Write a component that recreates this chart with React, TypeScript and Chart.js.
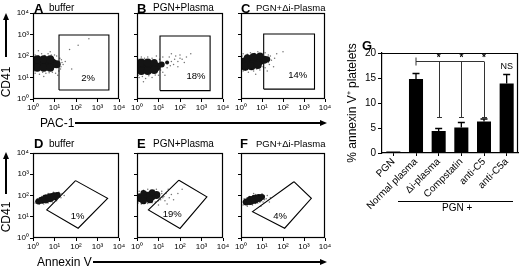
import React, { useEffect, useRef } from "react";
import { Chart, registerables } from "chart.js";

Chart.register(...registerables);

const FONT = '"Liberation Sans", Arial, Helvetica, sans-serif';
Chart.defaults.font.family = FONT;
Chart.defaults.color = "#000";

// ---------- flow cytometry panels (coordinates in log10 decades) ----------
const decadeTicks = [0, 1, 2, 3, 4];
const decadeLabels = ["10⁰", "10¹", "10²", "10³", "10⁴"];

// dense core blobs: [x, y, radius]
const coreA = [[0.15,1.65,5],[0.4,1.65,5],[0.65,1.65,5],[0.9,1.65,5],[1.1,1.62,4],[0.2,1.45,4],[0.5,1.45,4],[0.8,1.45,4],[0.2,1.85,4],[0.5,1.85,4],[0.8,1.85,4]];
const haloA = [[0.1,1.2],[0.3,1.15],[0.6,1.2],[0.9,1.25],[1.2,1.3],[1.3,1.5],[1.35,1.7],[1.25,1.9],[1.0,2.05],[0.7,2.1],[0.4,2.1],[0.1,2.05],[0.5,1.05],[1.4,1.6],[0.8,2.2],[0.25,2.25],[1.15,1.1],[1.5,1.75],[1.7,2.3],[2.1,2.5],[2.6,2.8],[1.8,1.4],[0.05,1.3],[0.45,1.25],[0.75,1.22],[1.05,1.2],[1.28,1.4],[1.32,1.82],[1.1,2.0],[0.85,2.05],[0.55,2.02],[0.25,2.0],[0.05,1.95]];
const gateA = [[1.21,0.42],[3.53,0.42],[3.53,2.98],[1.21,2.98],[1.21,0.42]];
const pctA = "2%";
const pctPosA = [2.56, 0.98];

const coreB = [[0.15,1.5,5],[0.4,1.5,5],[0.65,1.5,5],[0.9,1.5,4.5],[0.2,1.3,4],[0.5,1.3,4],[0.8,1.35,4],[0.2,1.7,4],[0.5,1.7,4],[0.8,1.7,3.5],[1.15,1.6,3],[1.4,1.7,2]];
const haloB = [[0.1,1.0],[0.4,0.95],[0.7,1.0],[1.0,1.1],[1.2,1.25],[1.4,1.45],[1.7,1.6],[1.9,1.75],[2.1,1.85],[2.3,1.95],[2.0,2.05],[1.8,2.0],[1.5,1.95],[1.2,1.95],[0.9,2.0],[0.5,1.95],[0.2,1.95],[1.9,1.5],[2.2,1.7],[1.6,2.1],[0.3,0.8],[2.5,2.1],[1.3,1.1],[1.6,1.75],[1.75,1.85],[0.05,1.1],[0.25,1.05],[0.55,1.08],[0.85,1.12],[1.1,1.35],[1.05,1.85],[0.7,1.9],[0.35,1.9],[0.05,1.85],[1.55,1.55],[2.0,1.9]];
const gateB = [[1.07,0.39],[3.4,0.39],[3.4,2.93],[1.07,2.93],[1.07,0.39]];
const pctB = "18%";
const pctPosB = [2.74, 1.07];

const coreC = [[0.15,1.7,5],[0.4,1.72,5],[0.65,1.75,5],[0.9,1.8,5],[1.1,1.82,4],[0.2,1.5,4],[0.5,1.52,4],[0.8,1.58,4],[0.3,1.92,3.5],[0.6,1.95,4],[0.9,2.0,3.5],[1.25,1.85,3]];
const haloC = [[0.1,1.3],[0.35,1.25],[0.6,1.3],[0.9,1.35],[1.15,1.45],[1.35,1.6],[1.45,1.8],[1.4,2.0],[1.15,2.15],[0.8,2.2],[0.45,2.15],[0.1,2.1],[1.6,1.9],[1.7,2.1],[0.7,1.15],[1.25,1.3],[1.55,1.5],[2.0,2.2],[0.05,1.4],[0.2,1.35],[0.5,1.38],[0.75,1.4],[1.05,1.5],[1.3,1.7],[1.3,2.05],[1.0,2.12],[0.65,2.12],[0.3,2.08],[0.05,2.0]];
const gateC = [[1.08,0.46],[3.5,0.46],[3.5,3.02],[1.08,3.02],[1.08,0.46]];
const pctC = "14%";
const pctPosC = [2.7, 1.1];

const coreD = [[0.25,1.72,3],[0.4,1.78,3.5],[0.6,1.84,4.5],[0.8,1.9,4.5],[1.0,1.96,4],[1.15,2.02,3]];
const haloD = [[0.1,1.65],[0.2,1.85],[0.3,1.6],[0.5,1.6],[0.5,2.0],[0.7,2.1],[0.9,1.7],[1.1,1.75],[1.2,2.15],[1.35,2.1],[1.3,1.9],[0.95,2.15],[0.15,1.78],[0.4,1.95],[1.45,2.0],[0.7,1.65],[0.12,1.72],[0.3,1.9],[0.45,1.65],[0.6,2.02],[0.85,2.08],[1.05,1.8],[1.25,1.95],[1.1,2.12]];
const gateD = [[1.98,2.7],[3.47,1.87],[2.1,0.46],[0.64,1.32],[1.98,2.7]];
const pctD = "1%";
const pctPosD = [2.07, 1.04];

const coreE = [[0.15,1.9,4.5],[0.4,1.95,5],[0.65,1.98,5],[0.9,2.02,4],[0.3,1.75,3.5],[0.6,1.8,3.5],[0.3,2.12,3],[0.7,2.15,3]];
const haloE = [[0.05,1.65],[0.2,1.6],[0.5,1.62],[0.85,1.7],[1.1,1.8],[1.25,1.95],[1.35,2.1],[1.15,2.2],[0.9,2.3],[0.5,2.3],[0.1,2.2],[1.3,1.75],[1.5,1.9],[1.6,2.05],[1.4,1.6],[1.7,1.8],[1.0,1.55],[1.45,2.3],[1.9,2.1],[2.1,2.3],[0.05,1.75],[0.35,1.62],[0.7,1.66],[1.0,1.75],[1.15,2.1],[0.8,2.25],[0.3,2.25],[1.2,1.9]];
const gateE = [[1.95,2.72],[3.25,1.94],[2.0,0.45],[0.53,1.32],[1.95,2.72]];
const pctE = "19%";
const pctPosE = [1.64, 1.13];

const coreF = [[0.25,1.7,3.5],[0.45,1.76,4.5],[0.65,1.82,4.5],[0.85,1.88,4],[1.0,1.93,3]];
const haloF = [[0.1,1.55],[0.3,1.5],[0.55,1.55],[0.8,1.65],[1.05,1.7],[1.2,1.85],[1.25,2.0],[1.0,2.08],[0.7,2.05],[0.4,1.95],[0.15,1.85],[0.1,1.7],[0.95,1.5],[1.4,1.9],[1.35,1.7],[0.6,2.1],[0.2,1.6],[0.42,1.58],[0.68,1.62],[0.9,1.68],[1.12,1.8],[1.1,1.98],[0.85,2.0],[0.55,1.98],[0.28,1.88]];
const gateF = [[2.52,2.65],[3.35,1.87],[2.08,0.46],[0.55,1.24],[2.52,2.65]];
const pctF = "4%";
const pctPosF = [1.86, 1.04];

// ---------- bar chart G ----------
const barCategories = ["PGN", "Normal plasma", "Δi-plasma", "Compstatin", "anti-C5", "anti-C5a"];
const barValues = [0.3, 14.8, 4.4, 5.1, 6.3, 13.9];
const barErrors = [0, 1.1, 0.5, 1.0, 0.5, 1.8];
const yTicksG = [0, 5, 10, 15, 20];
const sigFrom = 1;
const sigTo = [2, 3, 4];
const bracketY = 18.3;
const bracketLow = 7.2;
const starY = 19.4;
const nsIndex = 5;
const nsY = 17.3;

type Pt = number[];

interface PanelProps {
  left: number; top: number; w: number; h: number; showY: boolean;
  core: Pt[]; halo: Pt[]; gate: Pt[]; pct: string; pctPos: number[];
}

function FlowPanel({ left, top, w, h, showY, core, halo, gate, pct, pctPos }: PanelProps) {
  const ref = useRef<HTMLCanvasElement>(null);
  const PL = 32, PR = 10, PT = 8, XH = 16;
  useEffect(() => {
    const deco = {
      id: "deco",
      afterDatasetsDraw(chart: any) {
        const { ctx, chartArea: a, scales } = chart;
        ctx.save();
        ctx.strokeStyle = "#000";
        ctx.lineWidth = 1.2;
        ctx.strokeRect(a.left + 0.5, a.top + 0.5, a.right - a.left - 1, a.bottom - a.top - 1);
        ctx.font = `9.5px ${FONT}`;
        ctx.fillStyle = "#000";
        ctx.textAlign = "center";
        ctx.textBaseline = "middle";
        ctx.fillText(pct, scales.x.getPixelForValue(pctPos[0]), scales.y.getPixelForValue(pctPos[1]));
        ctx.restore();
      },
    };
    const axis = (isY: boolean) => ({
      type: "linear" as const,
      min: 0,
      max: 4,
      afterBuildTicks: (s: any) => { s.ticks = decadeTicks.map((v) => ({ value: v })); },
      afterFit: (s: any) => { if (isY) s.width = PL; else s.height = XH; },
      ticks: {
        callback: (_v: any, i: number) => (isY && !showY ? "" : decadeLabels[i]),
        font: { size: 8 },
        color: "#000",
        padding: 1,
        maxRotation: 0,
        autoSkip: false,
      },
      grid: { drawOnChartArea: false, drawTicks: true, tickLength: 3, color: "#000", lineWidth: 1 },
      border: { display: false },
    });
    const chart = new Chart(ref.current!, {
      type: "scatter",
      data: {
        datasets: [
          {
            data: halo.map((p) => ({ x: p[0], y: p[1] })),
            pointRadius: 0.75,
            pointBackgroundColor: "rgba(0,0,0,0.55)",
            pointBorderColor: "rgba(0,0,0,0)",
            pointBorderWidth: 0,
            clip: 0,
          },
          {
            data: core.map((p) => ({ x: p[0], y: p[1] })),
            pointRadius: core.map((p) => p[2]),
            pointBackgroundColor: "#141414",
            pointBorderColor: "rgba(0,0,0,0)",
            pointBorderWidth: 0,
            clip: 0,
          } as any,
          {
            data: gate.map((p) => ({ x: p[0], y: p[1] })),
            showLine: true,
            pointRadius: 0,
            borderColor: "#000",
            borderWidth: 1.1,
            tension: 0,
            fill: false,
            clip: 0,
          },
        ],
      },
      options: {
        animation: false,
        responsive: false,
        events: [],
        layout: { padding: { left: 0, right: PR, top: PT, bottom: 0 }, autoPadding: false } as any,
        plugins: { legend: { display: false }, tooltip: { enabled: false } },
        scales: { x: axis(false) as any, y: axis(true) as any },
      },
      plugins: [deco],
    });
    return () => chart.destroy();
  }, []);
  const cw = PL + w + PR, ch = PT + h + XH;
  return (
    <canvas
      ref={ref}
      width={cw}
      height={ch}
      style={{ position: "absolute", left: left - PL, top: top - PT, width: cw, height: ch }}
    />
  );
}

function BarPanel() {
  const ref = useRef<HTMLCanvasElement>(null);
  const CL = 325, CT = 40, CW = 195, CH = 175;
  const AL = 382, AT = 53, AR = 518, AB = 153;
  useEffect(() => {
    const deco = {
      id: "decoG",
      afterDatasetsDraw(chart: any) {
        const { ctx, chartArea: a, scales } = chart;
        const xs = scales.x, ys = scales.y;
        ctx.save();
        ctx.strokeStyle = "#000";
        ctx.lineWidth = 1.2;
        ctx.beginPath();
        ctx.moveTo(a.left, a.top + 0.5);
        ctx.lineTo(a.right - 0.5, a.top + 0.5);
        ctx.lineTo(a.right - 0.5, a.bottom);
        ctx.stroke();
        // error bars
        ctx.lineWidth = 1.3;
        barValues.forEach((v, i) => {
          const e = barErrors[i];
          if (!e) return;
          const x = xs.getPixelForValue(i);
          const y0 = ys.getPixelForValue(v);
          const y1 = ys.getPixelForValue(v + e);
          ctx.beginPath();
          ctx.moveTo(x, y0);
          ctx.lineTo(x, y1);
          ctx.moveTo(x - 3.5, y1);
          ctx.lineTo(x + 3.5, y1);
          ctx.stroke();
        });
        // significance bracket
        ctx.strokeStyle = "#333";
        ctx.lineWidth = 1;
        const xf = xs.getPixelForValue(sigFrom);
        const yb = Math.round(ys.getPixelForValue(bracketY)) + 0.5;
        const yl = Math.round(ys.getPixelForValue(bracketLow)) + 0.5;
        const xl = xs.getPixelForValue(sigTo[sigTo.length - 1]);
        ctx.beginPath();
        ctx.moveTo(xf, yb);
        ctx.lineTo(xl, yb);
        ctx.moveTo(xf, yb - 4);
        ctx.lineTo(xf, yb + 4);
        sigTo.forEach((i) => {
          const x = Math.round(xs.getPixelForValue(i)) + 0.5;
          ctx.moveTo(x, yb);
          ctx.lineTo(x, yl);
          ctx.moveTo(x - 2.5, yl);
          ctx.lineTo(x + 2.5, yl);
        });
        ctx.stroke();
        ctx.fillStyle = "#000";
        ctx.textAlign = "center";
        ctx.textBaseline = "middle";
        ctx.font = `bold 10px ${FONT}`;
        sigTo.forEach((i) => {
          ctx.fillText("*", xs.getPixelForValue(i), ys.getPixelForValue(starY) + 2);
        });
        ctx.font = `9px ${FONT}`;
        ctx.fillText("NS", xs.getPixelForValue(nsIndex), ys.getPixelForValue(nsY));
        ctx.restore();
      },
    };
    const chart = new Chart(ref.current!, {
      type: "bar",
      data: {
        labels: barCategories,
        datasets: [
          {
            data: barValues,
            backgroundColor: "#000",
            borderWidth: 0,
            barPercentage: 0.62,
            categoryPercentage: 1,
          },
        ],
      },
      options: {
        animation: false,
        responsive: false,
        events: [],
        layout: { padding: { left: 0, right: CL + CW - AR, top: AT - CT, bottom: 0 }, autoPadding: false } as any,
        plugins: { legend: { display: false }, tooltip: { enabled: false } },
        scales: {
          x: {
            offset: true,
            afterFit: (s: any) => { s.height = CT + CH - AB; },
            grid: { offset: false, drawOnChartArea: false, tickLength: 3, color: "#000" },
            border: { color: "#000", width: 1.2 },
            ticks: { minRotation: 45, maxRotation: 45, font: { size: 10 }, padding: 0, autoSkip: false, color: "#000" },
          } as any,
          y: {
            min: 0,
            max: 20,
            afterBuildTicks: (s: any) => { s.ticks = yTicksG.map((v) => ({ value: v })); },
            afterFit: (s: any) => { s.width = AL - CL; },
            grid: { drawOnChartArea: false, tickLength: 4, color: "#000" },
            border: { color: "#000", width: 1.2 },
            ticks: { font: { size: 10 }, padding: 2, color: "#000" },
            title: { display: true, text: "% annexin V⁺ platelets", font: { size: 12 }, padding: { top: 20, bottom: 0 }, color: "#000" },
          } as any,
        },
      },
      plugins: [deco],
    });
    return () => chart.destroy();
  }, []);
  return (
    <canvas
      ref={ref}
      width={CW}
      height={CH}
      style={{ position: "absolute", left: CL, top: CT, width: CW, height: CH }}
    />
  );
}

const txt = (left: number, top: number, text: string, size: number, bold = false, extra: any = {}) => (
  <div
    style={{
      position: "absolute",
      left,
      top,
      fontSize: size,
      lineHeight: `${size}px`,
      fontWeight: bold ? "bold" : "normal",
      fontFamily: FONT,
      whiteSpace: "nowrap",
      color: "#000",
      ...extra,
    }}
  >
    {text}
  </div>
);

function UpArrowLabel({ x, tip, lineEnd, textCenter }: { x: number; tip: number; lineEnd: number; textCenter: number }) {
  return (
    <>
      <div style={{ position: "absolute", left: x - 3, top: tip, width: 0, height: 0, borderLeft: "3px solid transparent", borderRight: "3px solid transparent", borderBottom: "7px solid #000" }} />
      <div style={{ position: "absolute", left: x - 0.6, top: tip + 6, width: 1.2, height: lineEnd - tip - 6, background: "#000" }} />
      <div
        style={{
          position: "absolute",
          left: x,
          top: textCenter,
          transform: "translate(-50%, -50%) rotate(-90deg)",
          fontSize: 12,
          lineHeight: "12px",
          fontFamily: FONT,
          whiteSpace: "nowrap",
        }}
      >
        CD41
      </div>
    </>
  );
}

function RightArrowLabel({ y, label, textLeft, lineStart, tip }: { y: number; label: string; textLeft: number; lineStart: number; tip: number }) {
  return (
    <>
      {txt(textLeft, y - 6, label, 12)}
      <div style={{ position: "absolute", left: lineStart, top: y - 0.6, width: tip - 6 - lineStart, height: 1.2, background: "#000" }} />
      <div style={{ position: "absolute", left: tip - 7, top: y - 3.5, width: 0, height: 0, borderTop: "3.5px solid transparent", borderBottom: "3.5px solid transparent", borderLeft: "7px solid #000" }} />
    </>
  );
}

export default function App() {
  return (
    <div style={{ position: "fixed", left: 0, top: 0, width: 520, height: 270, background: "#fff", overflow: "hidden", fontFamily: FONT }}>
      <FlowPanel left={33} top={13} w={86} h={86} showY={true} core={coreA} halo={haloA} gate={gateA} pct={pctA} pctPos={pctPosA} />
      <FlowPanel left={137} top={13} w={86} h={86} showY={false} core={coreB} halo={haloB} gate={gateB} pct={pctB} pctPos={pctPosB} />
      <FlowPanel left={241} top={13} w={84} h={86} showY={false} core={coreC} halo={haloC} gate={gateC} pct={pctC} pctPos={pctPosC} />
      <FlowPanel left={33} top={153} w={86} h={85} showY={true} core={coreD} halo={haloD} gate={gateD} pct={pctD} pctPos={pctPosD} />
      <FlowPanel left={137} top={153} w={86} h={85} showY={false} core={coreE} halo={haloE} gate={gateE} pct={pctE} pctPos={pctPosE} />
      <FlowPanel left={241} top={153} w={84} h={85} showY={false} core={coreF} halo={haloF} gate={gateF} pct={pctF} pctPos={pctPosF} />
      <BarPanel />

      {txt(34, 2, "A", 13, true)}
      {txt(49, 3, "buffer", 10)}
      {txt(137, 2, "B", 13, true)}
      {txt(153, 3, "PGN+Plasma", 10)}
      {txt(241, 2, "C", 13, true)}
      {txt(256, 3, "PGN+Δi-Plasma", 9.5)}

      {txt(34, 137, "D", 13, true)}
      {txt(49, 139, "buffer", 10)}
      {txt(137, 137, "E", 13, true)}
      {txt(153, 139, "PGN+Plasma", 10)}
      {txt(240, 137, "F", 13, true)}
      {txt(256, 139, "PGN+Δi-Plasma", 9.5)}

      {txt(362, 39, "G", 13, true)}

      <UpArrowLabel x={6} tip={13} lineEnd={57} textCenter={82} />
      <UpArrowLabel x={6} tip={152} lineEnd={194} textCenter={217} />
      <RightArrowLabel y={123} label="PAC-1" textLeft={40} lineStart={75} tip={327} />
      <RightArrowLabel y={262} label="Annexin V" textLeft={37} lineStart={93} tip={327} />

      <div style={{ position: "absolute", left: 398, top: 201, width: 115, height: 1, background: "#000" }} />
      {txt(442, 203, "PGN +", 10)}
    </div>
  );
}
